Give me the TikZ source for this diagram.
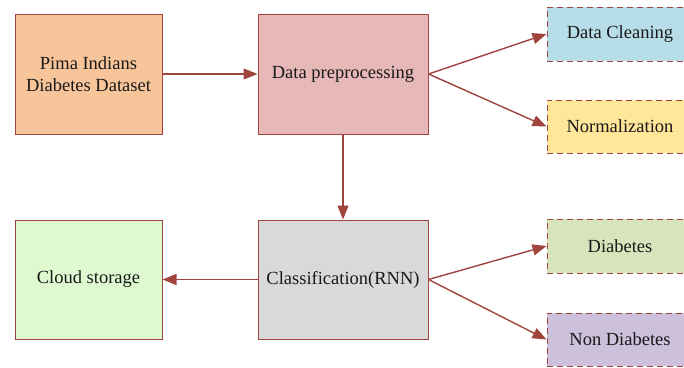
\documentclass[tikz,border=0pt]{standalone}
\usepackage{fontspec}
\setmainfont{Liberation Serif}
\usetikzlibrary{arrows.meta}
\definecolor{edge}{HTML}{A0443E}
\definecolor{cpima}{HTML}{F8C59B}
\definecolor{cprep}{HTML}{E6B8B7}
\definecolor{cclean}{HTML}{B7DDE8}
\definecolor{cnorm}{HTML}{FFE699}
\definecolor{cdiab}{HTML}{D8E4BC}
\definecolor{cnon}{HTML}{CCC0DA}
\definecolor{ccloud}{HTML}{DEF9CF}
\definecolor{cclass}{HTML}{D9D9D9}
\tikzset{
  mainbox/.style={draw=edge, line width=1pt, rectangle, align=center, inner sep=0pt,
    font=\fontsize{18.5}{22.5}\selectfont, text=black!90},
  sidebox/.style={mainbox, dashed, dash pattern=on 6pt off 4pt, minimum width=146pt},
  conn/.style={draw=edge, line width=1.4pt, -{Triangle[length=14pt,width=11pt]}}
}
\begin{document}
\begin{tikzpicture}[x=1pt,y=-1pt]
\useasboundingbox (0,0) rectangle (684,367);
\clip (0,0) rectangle (684,367);
\node[mainbox, fill=cpima, minimum width=147pt, minimum height=120pt] (pima) at (88.5,74) {Pima Indians\\Diabetes Dataset};
\node[mainbox, fill=cprep, minimum width=170pt, minimum height=120pt] (prep) at (343,74) {Data preprocessing};
\node[mainbox, fill=ccloud, minimum width=147pt, minimum height=119pt] (cloud) at (88.5,279.5) {Cloud storage};
\node[mainbox, fill=cclass, minimum width=170pt, minimum height=119pt] (class) at (343,279.5) {Classification(RNN)};
\node[sidebox, fill=cclean, minimum height=54pt] (clean) at (620,34) {Data Cleaning};
\node[sidebox, fill=cnorm, minimum height=53pt] (norm) at (620,126.5) {Normalization};
\node[sidebox, fill=cdiab, minimum height=54pt] (diab) at (620,246) {Diabetes};
\node[sidebox, fill=cnon, minimum height=53pt] (non) at (620,339.5) {Non Diabetes};
\draw[conn] (pima.east) -- (prep.west);
\draw[conn] (prep.east) -- (clean.west);
\draw[conn] (prep.east) -- (norm.west);
\draw[conn] (prep.south) -- (class.north);
\draw[conn] (class.west) -- (cloud.east);
\draw[conn] (class.east) -- (diab.west);
\draw[conn] (class.east) -- (non.west);
\end{tikzpicture}
\end{document}
